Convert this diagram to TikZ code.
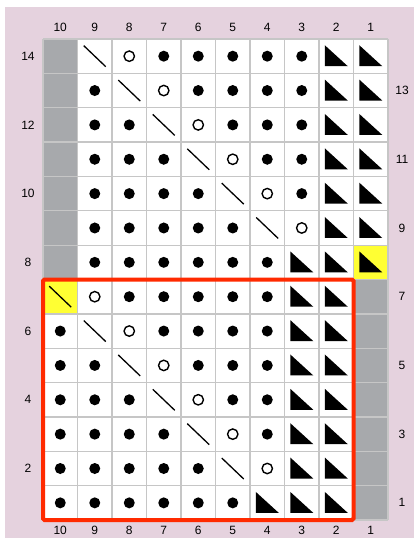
\documentclass[tikz,border=0pt]{standalone}
\usepackage{fontspec}
\setmainfont{Liberation Sans}
\definecolor{chartbg}{RGB}{229,210,222}
\definecolor{nostgray}{RGB}{167,169,172}
\definecolor{gridgray}{RGB}{198,198,198}
\definecolor{hiyellow}{RGB}{255,255,51}
\definecolor{framered}{RGB}{255,42,0}
\begin{document}
\begin{tikzpicture}[
    x=1pt, y=-1pt,
    numlabel/.style={font=\fontsize{12}{14}\selectfont, inner sep=0pt},
    gridline/.style={draw=gridgray, line width=1.3pt},
    pics/purl/.style={code={\fill (0,0) circle (5.5pt);}},
    pics/yo/.style={code={\draw[line width=1.4pt] (0,0) circle (5.2pt);}},
    pics/ktog/.style={code={\draw[line width=1.3pt] (-11,-10.5) -- (11,10.5);}},
    pics/tri/.style={code={\fill (-11.5,-11) -- (-11.5,10) -- (11.5,10) -- cycle;}},
    pics/nost/.style={code={\fill[nostgray] (-17.25,-17.18) rectangle (17.25,17.18);}},
    pics/ktogY/.style={code={\fill[hiyellow] (-17.25,-17.18) rectangle (17.25,17.18);
        \draw[line width=1.3pt] (-11,-10.5) -- (11,10.5);}},
    pics/triY/.style={code={\fill[hiyellow] (-17.25,-17.18) rectangle (17.25,17.18);
        \fill (-11.5,-11) -- (-11.5,10) -- (11.5,10) -- cycle;}}
    ]
  \useasboundingbox (0,0) rectangle (414,538);
  \fill[white] (0,0) rectangle (414,538);
  \fill[chartbg] (5,7) rectangle (414,538);
  \fill[white] (43,39) rectangle (388,520);
  % chart rows, columns 10 to 1
  \foreach \r/\cells in {
      14/{nost,ktog,yo,purl,purl,purl,purl,purl,tri,tri},
      13/{nost,purl,ktog,yo,purl,purl,purl,purl,tri,tri},
      12/{nost,purl,purl,ktog,yo,purl,purl,purl,tri,tri},
      11/{nost,purl,purl,purl,ktog,yo,purl,purl,tri,tri},
      10/{nost,purl,purl,purl,purl,ktog,yo,purl,tri,tri},
      9/{nost,purl,purl,purl,purl,purl,ktog,yo,tri,tri},
      8/{nost,purl,purl,purl,purl,purl,purl,tri,tri,triY},
      7/{ktogY,yo,purl,purl,purl,purl,purl,tri,tri,nost},
      6/{purl,ktog,yo,purl,purl,purl,purl,tri,tri,nost},
      5/{purl,purl,ktog,yo,purl,purl,purl,tri,tri,nost},
      4/{purl,purl,purl,ktog,yo,purl,purl,tri,tri,nost},
      3/{purl,purl,purl,purl,ktog,yo,purl,tri,tri,nost},
      2/{purl,purl,purl,purl,purl,ktog,yo,tri,tri,nost},
      1/{purl,purl,purl,purl,purl,purl,tri,tri,tri,nost}}{
    \foreach \s [count=\i] in \cells
      \pic at ({43+(\i-0.5)*34.5},{39+(14.5-\r)*34.36}) {\s};
  }
  % grid
  \foreach \k in {0,...,10}
    \draw[gridline] ({43+\k*34.5},39) -- ({43+\k*34.5},520);
  \foreach \k in {0,...,14}
    \draw[gridline] (43,{39+\k*34.36}) -- (388,{39+\k*34.36});
  % column numbers
  \foreach \c in {1,...,10}{
    \node[numlabel] (top-\c) at ({43+(10.5-\c)*34.5},27) {\c};
    \node[numlabel] (bot-\c) at ({43+(10.5-\c)*34.5},530.5) {\c};
  }
  % row numbers
  \foreach \r in {2,4,...,14}
    \node[numlabel] (row-\r) at (28,{39+(14.5-\r)*34.36}) {\r};
  \foreach \r in {1,3,...,13}
    \node[numlabel] (row-\r) at (402,{39+(14.5-\r)*34.36}) {\r};
  \draw[framered, line width=4pt, rounded corners=1.5pt] (43,279.5) rectangle (353.5,520);
\end{tikzpicture}
\end{document}
